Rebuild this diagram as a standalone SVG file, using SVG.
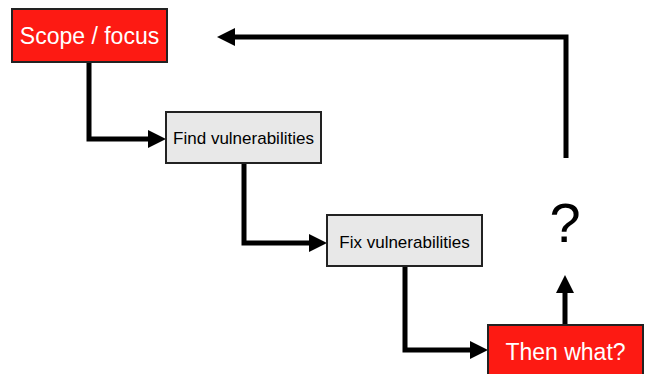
<svg xmlns="http://www.w3.org/2000/svg" width="646" height="374" viewBox="0 0 646 374">
<defs>
<style>
.red{fill:#fd1a13;stroke:#222;stroke-width:2}
.gray{fill:#e8e8e8;stroke:#222;stroke-width:2}
.wt{fill:#fff;font-family:"Liberation Sans",Arial,sans-serif;font-size:23px;text-anchor:middle}
.bt{fill:#000;font-family:"Liberation Sans",Arial,sans-serif;font-size:17px;text-anchor:middle}
.conn{fill:none;stroke:#000;stroke-width:5;stroke-linejoin:miter;marker-end:url(#ah)}
</style>
<marker id="ah" markerUnits="userSpaceOnUse" markerWidth="18" markerHeight="18" refX="0" refY="9" orient="auto" viewBox="0 0 18 18">
<path d="M0,0 L18,9 L0,18 Z" fill="#000"/>
</marker>
</defs>
<rect width="646" height="374" fill="#fff"/>
<g id="connectors">
<path class="conn" d="M89,62 V139 H148"/>
<path class="conn" d="M244,163 V243 H309"/>
<path class="conn" d="M405,266 V350 H470"/>
<path class="conn" d="M565,325 V293"/>
<path class="conn" d="M566,158 V37 H235"/>
</g>
<g id="scope">
<rect class="red" x="12" y="9" width="155" height="53"/>
<text class="wt" x="89.5" y="44">Scope / focus</text>
</g>
<g id="find">
<rect class="gray" x="166" y="112" width="155" height="51"/>
<text class="bt" x="243.5" y="144">Find vulnerabilities</text>
</g>
<g id="fix">
<rect class="gray" x="327" y="215" width="155" height="51"/>
<text class="bt" x="404.5" y="248">Fix vulnerabilities</text>
</g>
<g id="then">
<rect class="red" x="488" y="325" width="155" height="53"/>
<text class="wt" x="565.5" y="360">Then what?</text>
</g>
<g id="question">
<text x="565" y="242" font-family="Liberation Sans, Arial, sans-serif" font-size="56" text-anchor="middle" fill="#000">?</text>
</g>
</svg>
